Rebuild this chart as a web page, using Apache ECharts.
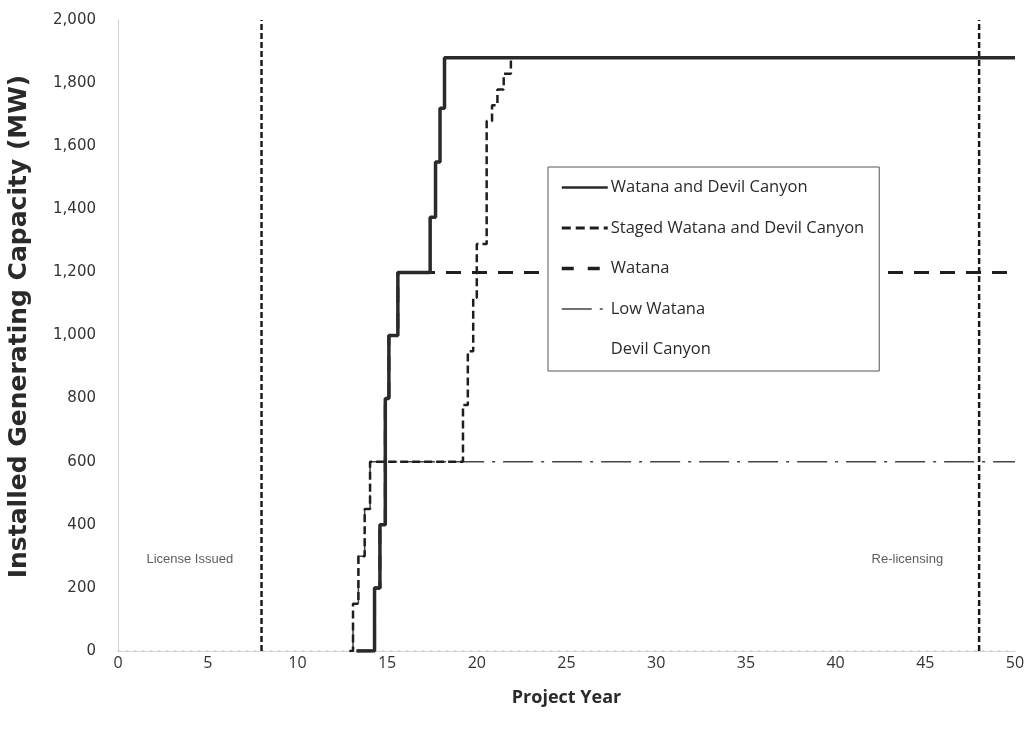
<!DOCTYPE html>
<html>
<head>
<meta charset="utf-8">
<script src="https://cdn.jsdelivr.net/npm/echarts@6/dist/echarts.min.js"></script>
<style>
html,body{margin:0;padding:0;background:#fff;}
#chart{width:1032px;height:741px;}
</style>
</head>
<body>
<div id="chart"></div>
<script>
// ---- data ----
const seriesNames = ['Watana and Devil Canyon', 'Staged Watana and Devil Canyon', 'Watana', 'Low Watana', 'Devil Canyon'];

// step points: year at which capacity becomes value
const wdcYears   = [13.3, 14.3, 14.6, 14.9, 15.1, 15.6, 17.4, 17.7, 17.95, 18.2, 50];
const wdcMW      = [0, 200, 400, 800, 1000, 1200, 1375, 1550, 1720, 1880, 1880];

const stagedYears = [12.9, 13.1, 13.4, 13.75, 14.05, 19.23, 19.5, 19.8, 20.0, 20.55, 20.85, 21.15, 21.5, 21.9];
const stagedMW    = [0, 150, 300, 450, 600, 780, 950, 1120, 1290, 1680, 1730, 1780, 1830, 1880];

const watanaYears = [13.3, 14.3, 14.6, 14.9, 15.1, 15.6, 50];
const watanaMW    = [0, 200, 400, 800, 1000, 1200, 1200];

const lowWatanaYears = [12.9, 13.1, 13.4, 13.75, 14.05, 50];
const lowWatanaMW    = [0, 150, 300, 450, 600, 600];

const devilCanyonYears = [0, 50];
const devilCanyonMW    = [0, 0];

const licenseYear = 8;
const relicenseYear = 48;
const markerSpanMW = [0, 2000];

const annotationTexts = ['License Issued', 'Re-licensing'];
const annotationYears = [4.0, 44.0];
const annotationMW = [290, 290];

const xTicks = [0, 50, 5];       // min, max, interval
const yTicks = [0, 2000, 200];   // min, max, interval

// ---- helpers ----
const zip = (xs, ys) => xs.map((x, i) => [x, ys[i]]);

const chart = echarts.init(document.getElementById('chart'), null, {renderer: 'canvas'});

const option = {
  backgroundColor: '#ffffff',
  animation: false,
  grid: {left: 118, right: 17, top: 20, bottom: 90, containLabel: false, outerBoundsMode: 'none'},
  xAxis: {
    type: 'value',
    min: xTicks[0], max: xTicks[1], interval: xTicks[2],
    name: 'Project Year',
    nameLocation: 'middle',
    nameGap: 38,
    nameTextStyle: {fontFamily: 'Open Sans', fontWeight: 'bold', fontSize: 18, color: '#2a2a2a'},
    axisLine: {show: true, lineStyle: {color: '#c8c8c8', width: 1, type: 'dotted'}},
    axisTick: {show: false},
    splitLine: {show: false},
    axisLabel: {fontFamily: 'Open Sans', fontSize: 16, color: '#333', margin: 4}
  },
  yAxis: {
    type: 'value',
    min: yTicks[0], max: yTicks[1], interval: yTicks[2],
    name: 'Installed Generating Capacity (MW)',
    nameLocation: 'middle',
    nameGap: 86,
    nameTextStyle: {fontFamily: 'DejaVu Sans', fontWeight: 'bold', fontSize: 25, color: '#2a2a2a', padding: [0, 0, 0, 18]},
    axisLine: {show: true, lineStyle: {color: '#c8c8c8', width: 1, type: 'dotted'}},
    axisTick: {show: false},
    splitLine: {show: false},
    axisLabel: {
      fontFamily: 'DejaVu Sans', fontSize: 15, color: '#333', margin: 22,
      formatter: v => v.toLocaleString('en-US')
    }
  },
  legend: {
    orient: 'vertical',
    left: 548, top: 167, z: 10,
    data: [
      {name: seriesNames[0], lineStyle: {width: 2.5}},
      {name: seriesNames[1], lineStyle: {width: 3, type: [9, 5]}},
      {name: seriesNames[2], lineStyle: {width: 3.5, type: [12, 14]}},
      {name: seriesNames[3], lineStyle: {width: 1.5}},
      {name: seriesNames[4], itemStyle: {opacity: 0}, lineStyle: {opacity: 0}}
    ],
    itemStyle: {opacity: 0},
    itemWidth: 46, itemHeight: 14, itemGap: 23.5,
    padding: [12, 15, 13, 12],
    backgroundColor: '#fff',
    borderColor: '#555', borderWidth: 1,
    textStyle: {fontFamily: 'Open Sans', fontSize: 16.5, lineHeight: 14, color: '#2a2a2a', padding: [0, 0, 0, -2]}
  },
  series: [
    {
      name: seriesNames[4], type: 'line', step: 'end', symbol: 'none',
      data: zip(devilCanyonYears, devilCanyonMW),
      itemStyle: {color: '#bdbdbd'},
      lineStyle: {color: '#bdbdbd', width: 1, type: [2, 6]}, z: 1
    },
    {
      name: 'License marker', type: 'line', symbol: 'none',
      data: zip([licenseYear, licenseYear], markerSpanMW),
      itemStyle: {color: '#1a1a1a'},
      lineStyle: {color: '#1a1a1a', width: 2.5, type: [6, 3]}, z: 2
    },
    {
      name: 'Relicense marker', type: 'line', symbol: 'none',
      data: zip([relicenseYear, relicenseYear], markerSpanMW),
      itemStyle: {color: '#1a1a1a'},
      lineStyle: {color: '#1a1a1a', width: 2.5, type: [6, 3]}, z: 2
    },
    {
      name: seriesNames[3], type: 'line', step: 'end', symbol: 'none',
      data: zip(lowWatanaYears, lowWatanaMW),
      itemStyle: {color: '#444'},
      lineStyle: {color: '#444', width: 1.5, type: [30, 8, 3, 8]}, z: 3
    },
    {
      name: seriesNames[2], type: 'line', step: 'end', symbol: 'none',
      data: zip(watanaYears, watanaMW),
      itemStyle: {color: '#1e1e1e'},
      lineStyle: {color: '#1e1e1e', width: 3, type: [15, 11]}, z: 4
    },
    {
      name: seriesNames[1], type: 'line', step: 'end', symbol: 'none',
      data: zip(stagedYears, stagedMW),
      itemStyle: {color: '#1e1e1e'},
      lineStyle: {color: '#1e1e1e', width: 2.5, type: [8, 4]}, z: 5
    },
    {
      name: seriesNames[0], type: 'line', step: 'end', symbol: 'none',
      data: zip(wdcYears, wdcMW),
      itemStyle: {color: '#2a2a2a'},
      lineStyle: {color: '#2a2a2a', width: 3.5}, z: 6
    },
    {
      name: 'Annotations', type: 'scatter', symbolSize: 0,
      data: annotationYears.map((x, i) => ({value: [x, annotationMW[i]], name: annotationTexts[i]})),
      itemStyle: {color: '#333'},
      label: {
        show: true, position: 'inside', formatter: p => p.name,
        fontFamily: 'Liberation Sans', fontSize: 13, color: '#333'
      },
      z: 7
    }
  ]
};

chart.setOption(option);
</script>
</body>
</html>
